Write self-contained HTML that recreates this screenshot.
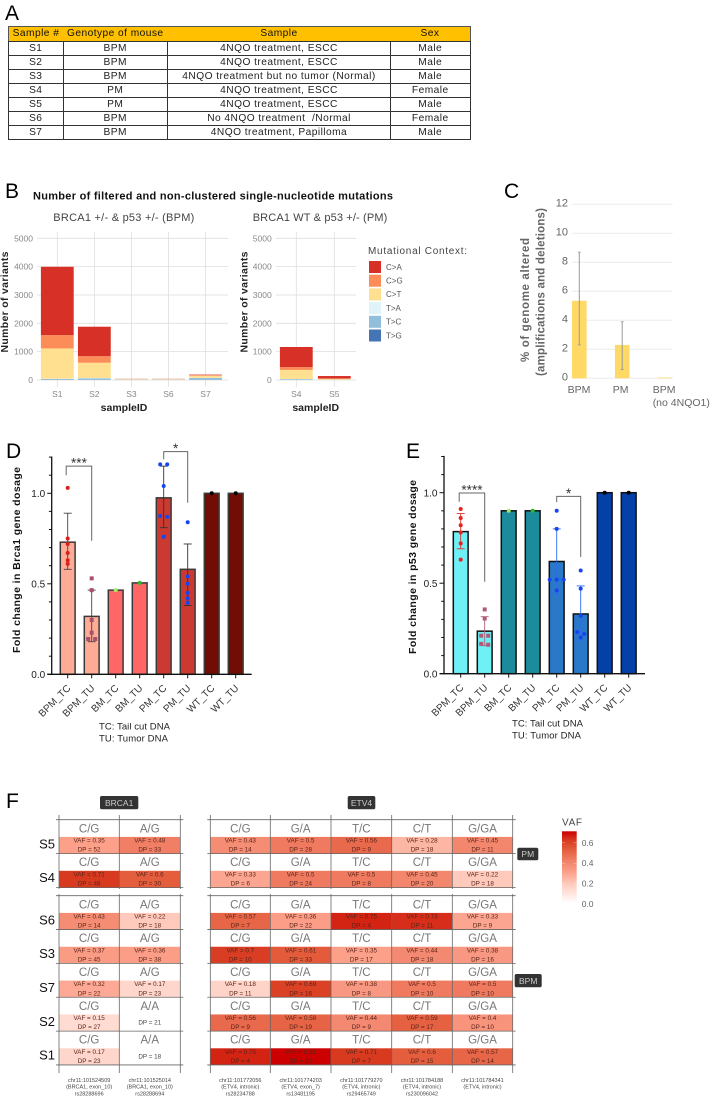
<!DOCTYPE html>
<html lang="en">
<head>
<meta charset="utf-8">
<title>Mouse sample table and genomic analyses</title>
<style>
html,body{margin:0;padding:0;background:#fff;}
body{width:712px;height:1097px;overflow:hidden;position:relative;font-family:"Liberation Sans",sans-serif;}
#figure{position:absolute;left:0;top:0;filter:blur(0.3px);}
#sample-table{position:absolute;left:8px;top:26px;width:461.5px;border-collapse:collapse;table-layout:fixed;font-size:10.2px;letter-spacing:.45px;color:#222;border:1.2px solid #555;filter:blur(0.25px);}
#sample-table th{background:#FFC000;font-weight:normal;height:14px;padding:0;border:0;line-height:14px;color:#111;white-space:nowrap;}
#sample-table td{height:13px;line-height:13px;padding:0;text-align:center;border:1px solid #333;white-space:nowrap;}
</style>
</head>
<body>
<svg id="figure" xmlns="http://www.w3.org/2000/svg" width="712" height="1097" viewBox="0 0 712 1097" font-family="'Liberation Sans',sans-serif">
  <text x="5" y="20" font-size="21">A</text>
  <text x="5" y="198" font-size="21">B</text>
  <text x="504" y="198" font-size="21">C</text>
  <text x="6" y="458" font-size="21">D</text>
  <text x="406" y="458" font-size="21">E</text>
  <text x="6" y="808" font-size="21">F</text>

  <text x="33" y="199.5" font-size="11" font-weight="bold" fill="#111" textLength="360" lengthAdjust="spacing">Number of filtered and non-clustered single-nucleotide mutations</text>
  <text x="53.3" y="221" font-size="11" fill="#444" textLength="141" lengthAdjust="spacing">BRCA1 +/- &amp; p53 +/- (BPM)</text>
  <text x="252.7" y="221" font-size="11" fill="#444" textLength="134.6" lengthAdjust="spacing">BRCA1 WT &amp; p53 +/- (PM)</text>
  <text x="368" y="254" font-size="10" fill="#444" textLength="99" lengthAdjust="spacing">Mutational Context:</text>

  <text transform="translate(529,300) rotate(-90)" text-anchor="middle" font-size="11.5" font-weight="bold" fill="#666" textLength="124" lengthAdjust="spacing">% of genome altered</text>
  <text transform="translate(544.5,292) rotate(-90)" text-anchor="middle" font-size="11.5" font-weight="bold" fill="#666" textLength="168" lengthAdjust="spacing">(amplifications and deletions)</text>

  <text transform="translate(20,560) rotate(-90)" text-anchor="middle" font-size="10.5" font-weight="bold" fill="#111" textLength="186" lengthAdjust="spacing">Fold change in Brca1 gene dosage</text>
  <text transform="translate(416,567) rotate(-90)" text-anchor="middle" font-size="10.5" font-weight="bold" fill="#111" textLength="174" lengthAdjust="spacing">Fold change in p53 gene dosage</text>
  <text x="99" y="729.5" font-size="9.5" fill="#222" textLength="71" lengthAdjust="spacing">TC: Tail cut DNA</text>
  <text x="99" y="741.5" font-size="9.5" fill="#222" textLength="69" lengthAdjust="spacing">TU: Tumor DNA</text>
  <text x="512" y="726.5" font-size="9.5" fill="#222" textLength="71" lengthAdjust="spacing">TC: Tail cut DNA</text>
  <text x="512" y="738.5" font-size="9.5" fill="#222" textLength="69" lengthAdjust="spacing">TU: Tumor DNA</text>
</svg>

<table id="sample-table">
  <colgroup><col style="width:54.5px"><col style="width:104.5px"><col style="width:223px"><col style="width:79.5px"></colgroup>
  <tr><th>Sample #</th><th>Genotype of mouse</th><th>Sample</th><th>Sex</th></tr>
  <tr><td>S1</td><td>BPM</td><td>4NQO treatment, ESCC</td><td>Male</td></tr>
  <tr><td>S2</td><td>BPM</td><td>4NQO treatment, ESCC</td><td>Male</td></tr>
  <tr><td>S3</td><td>BPM</td><td>4NQO treatment but no tumor (Normal)</td><td>Male</td></tr>
  <tr><td>S4</td><td>PM</td><td>4NQO treatment, ESCC</td><td>Female</td></tr>
  <tr><td>S5</td><td>PM</td><td>4NQO treatment, ESCC</td><td>Male</td></tr>
  <tr><td>S6</td><td>BPM</td><td>No 4NQO treatment &nbsp;/Normal</td><td>Female</td></tr>
  <tr><td>S7</td><td>BPM</td><td>4NQO treatment, Papilloma</td><td>Male</td></tr>
</table>

<script>
/* ---------- Panel B data ---------- */
const leftSamples = ['S1', 'S2', 'S3', 'S6', 'S7'];
const rightSamples = ['S4', 'S5'];
const stackSamples = ['S1', 'S2', 'S3', 'S6', 'S7', 'S4', 'S5'];
const contexts = ['C>A', 'C>G', 'C>T', 'T>A', 'T>C', 'T>G'];
const countsCA = [2410, 1040, 5, 5, 15, 710, 85];
const countsCG = [470, 230, 5, 5, 25, 100, 15];
const countsCT = [1070, 540, 15, 15, 70, 320, 30];
const countsTA = [10, 15, 5, 5, 10, 5, 3];
const countsTC = [30, 50, 10, 10, 65, 30, 7];
const countsTG = [5, 5, 0, 0, 5, 0, 0];
const variantTicks = [0, 1000, 2000, 3000, 4000, 5000];

/* ---------- Panel C data ---------- */
const cnaGroups = ['BPM', 'PM', 'BPM'];
const cnaMeans = [5.35, 2.3, 0.05];
const cnaLows = [2.3, 0.6, null];
const cnaHighs = [8.7, 3.9, null];
const cnaTicks = [0, 2, 4, 6, 8, 10, 12];

/* ---------- Panels D and E data ---------- */
const doseGroups = ['BPM_TC', 'BPM_TU', 'BM_TC', 'BM_TU', 'PM_TC', 'PM_TU', 'WT_TC', 'WT_TU'];
const doseTicks = [0, 0.5, 1];
const brcaMeans = [0.73, 0.32, 0.465, 0.505, 0.975, 0.58, 1, 1];
const brcaLows = [0.58, 0.18, null, null, 0.81, 0.38, null, null];
const brcaHighs = [0.89, 0.465, null, null, 1.15, 0.72, null, null];
const brcaPoints = [
  [1.03, 0.75, 0.72, 0.67, 0.63, 0.61],
  [0.53, 0.465, 0.30, 0.23, 0.195, 0.195],
  [0.465],
  [0.505],
  [1.16, 1.16, 1.04, 0.87, 0.875, 0.76],
  [0.84, 0.54, 0.50, 0.45, 0.42, 0.395],
  [1],
  [1]
];
const p53Means = [0.785, 0.235, 0.9, 0.9, 0.62, 0.33, 1, 1];
const p53Lows = [0.69, 0.155, null, null, 0.435, 0.185, null, null];
const p53Highs = [0.885, 0.315, null, null, 0.80, 0.485, null, null];
const p53Points = [
  [0.91, 0.86, 0.82, 0.78, 0.72, 0.63],
  [0.355, 0.305, 0.21, 0.21, 0.16, 0.165],
  [0.9],
  [0.9],
  [0.90, 0.80, 0.52, 0.52, 0.52, 0.46],
  [0.57, 0.47, 0.32, 0.22, 0.23, 0.20],
  [1],
  [1]
];
const brcaBrackets = [
  { from: 0, to: 1, top: 1.15, leftEnd: 1.10, rightEnd: 0.738, label: '***' },
  { from: 4, to: 5, top: 1.23, leftEnd: 1.188, rightEnd: 0.948, label: '*' }
];
const p53Brackets = [
  { from: 0, to: 1, top: 0.998, leftEnd: 0.95, rightEnd: 0.508, label: '****' },
  { from: 4, to: 5, top: 0.98, leftEnd: 0.948, rightEnd: 0.645, label: '*' }
];

/* ---------- Panel F data ---------- */
const heatSamples = ['S5', 'S4', 'S6', 'S3', 'S7', 'S2', 'S1'];
const heatGenotypes = ['C/G', 'A/G', 'C/G', 'G/A', 'T/C', 'C/T', 'G/GA'];
const homozygousBrca = ['C/G', 'A/A'];
const vafS5 = [0.35, 0.48, 0.43, 0.5, 0.56, 0.28, 0.45];
const vafS4 = [0.71, 0.6, 0.33, 0.5, 0.5, 0.45, 0.22];
const vafS6 = [0.43, 0.22, 0.57, 0.36, 0.75, 0.73, 0.33];
const vafS3 = [0.37, 0.36, 0.7, 0.61, 0.35, 0.44, 0.38];
const vafS7 = [0.32, 0.17, 0.18, 0.69, 0.38, 0.5, 0.5];
const vafS2 = [0.15, null, 0.56, 0.58, 0.44, 0.59, 0.4];
const vafS1 = [0.17, null, 0.75, 0.81, 0.71, 0.6, 0.57];
const dpS5 = [52, 33, 14, 28, 9, 18, 11];
const dpS4 = [48, 30, 6, 24, 8, 20, 18];
const dpS6 = [14, 18, 7, 22, 4, 11, 9];
const dpS3 = [45, 38, 10, 33, 17, 18, 16];
const dpS7 = [22, 23, 11, 16, 8, 10, 10];
const dpS2 = [27, 21, 9, 19, 9, 17, 10];
const dpS1 = [23, 18, 4, 31, 7, 15, 14];
const locusPositions = ['chr11:101524509', 'chr11:101525014', 'chr11:101772056', 'chr11:101774203', 'chr11:101779270', 'chr11:101784188', 'chr11:101784341'];
const locusNotes = ['(BRCA1, exon_10)', '(BRCA1, exon_10)', '(ETV4, intronic)', '(ETV4, exon_7)', '(ETV4, intronic)', '(ETV4, intronic)', '(ETV4, intronic)'];
const locusIds = ['rs28288696', 'rs28288694', 'rs28234788', 'rs13481195', 'rs29465749', 'rs230096042', ''];
const vafLegendTicks = [0, 0.2, 0.4, 0.6];

/* ---------- Helpers ---------- */
const NS = 'http://www.w3.org/2000/svg';
const svg = document.getElementById('figure');
function add(parent, tag, name, attrs, text) {
  const el = document.createElementNS(NS, tag);
  
  
  for (const k in attrs) el.setAttribute(k, attrs[k]);
  if (text !== undefined) el.textContent = text;
  parent.appendChild(el);
  return el;
}
function group(name) {
  return add(svg, 'g', name, {});
}
function slug(s) {
  return String(s).toLowerCase().replace(/[^a-z0-9]+/g, '-');
}

/* ---------- Panel B ---------- */
const contextColors = ['#D73027', '#FC8D59', '#FEE090', '#E0F3F8', '#91BFDB', '#4575B4'];
const contextSeries = [countsCA, countsCG, countsCT, countsTA, countsTC, countsTG];
function yVariants(v) {
  return 380 - v * 141.7 / 5000;
}
function drawStackPanel(name, samples, xLeft, xRight, firstCenter, step, tickX, titleX, labelX) {
  const g = group(name);
  const xBand = i => firstCenter + step * i;
  variantTicks.forEach(t => {
    add(g, 'line', 'variant-gridline', { x1: xLeft, x2: xRight, y1: yVariants(t), y2: yVariants(t), stroke: '#dedede', 'stroke-width': 0.8 });
    add(g, 'text', 'variant-tick-label', { x: tickX, y: yVariants(t) + 3, 'text-anchor': 'end', 'font-size': 8.5, fill: '#888' }, t);
  });
  samples.forEach((s, i) => {
    add(g, 'line', 'sample-gridline', { x1: xBand(i), x2: xBand(i), y1: 231.7, y2: 386.7, stroke: '#dedede', 'stroke-width': 0.8 });
  });
  samples.forEach((s, i) => {
    const row = stackSamples.indexOf(s);
    let total = 0;
    for (let c = contexts.length - 1; c >= 0; c--) {
      const v = contextSeries[c][row];
      add(g, 'rect', 'bar-' + slug(s) + '-' + slug(contexts[c]), {
        x: xBand(i) - 16.4, width: 32.8,
        y: yVariants(total + v), height: Math.max(0, yVariants(total) - yVariants(total + v)),
        fill: contextColors[c]
      });
      total += v;
    }
    add(g, 'text', 'sample-tick-label', { x: xBand(i), y: 397, 'text-anchor': 'middle', 'font-size': 8.5, fill: '#888' }, s);
  });
  add(g, 'text', 'sample-axis-title', { x: labelX, y: 411, 'text-anchor': 'middle', 'font-size': 10.5, 'font-weight': 'bold', fill: '#222' }, 'sampleID');
  add(g, 'text', 'variant-axis-title', { transform: 'translate(' + titleX + ',302) rotate(-90)', 'text-anchor': 'middle', 'font-size': 10.5, 'font-weight': 'bold', fill: '#222', textLength: 101, lengthAdjust: 'spacing' }, 'Number of variants');
}
drawStackPanel('bpm-stacked-bars', leftSamples, 37, 228, 57.3, 37.05, 33, 8, 124);
drawStackPanel('pm-stacked-bars', rightSamples, 276, 356, 296.3, 38, 271.7, 247.5, 315.7);

const legendGroup = group('mutation-legend');
contexts.forEach((c, i) => {
  const cy = 267 + i * 13.7;
  add(legendGroup, 'rect', 'legend-swatch-' + slug(c), { x: 369, y: cy - 6, width: 12, height: 12, fill: contextColors[i] });
  add(legendGroup, 'text', 'legend-entry-' + slug(c), { x: 386, y: cy + 2.8, 'font-size': 8, fill: '#555' }, c);
});

/* ---------- Panel C ---------- */
const cnaGroup = group('genome-altered-chart');
function yCna(v) {
  return 378.3 - v * 174 / 12;
}
function xCna(i) {
  return 579.3 + i * 42.9;
}
cnaTicks.forEach(t => {
  add(cnaGroup, 'line', 'cna-gridline', { x1: 571.7, x2: 672.7, y1: yCna(t), y2: yCna(t), stroke: '#ebebeb', 'stroke-width': 1 });
  add(cnaGroup, 'text', 'cna-tick-label', { x: 568, y: yCna(t) + 2, 'text-anchor': 'end', 'font-size': 11, fill: '#666' }, t);
});
cnaMeans.forEach((v, i) => {
  add(cnaGroup, 'rect', 'cna-bar-' + i, { x: xCna(i) - 7.3, width: 14.6, y: yCna(v), height: yCna(0) - yCna(v), fill: '#FFD966' });
  if (cnaLows[i] !== null) {
    add(cnaGroup, 'line', 'cna-error-bar-' + i, { x1: xCna(i), x2: xCna(i), y1: yCna(cnaLows[i]), y2: yCna(cnaHighs[i]), stroke: '#999', 'stroke-width': 1 });
    add(cnaGroup, 'line', 'cna-error-cap-low-' + i, { x1: xCna(i) - 1.5, x2: xCna(i) + 1.5, y1: yCna(cnaLows[i]), y2: yCna(cnaLows[i]), stroke: '#999', 'stroke-width': 0.8 });
    add(cnaGroup, 'line', 'cna-error-cap-high-' + i, { x1: xCna(i) - 1.5, x2: xCna(i) + 1.5, y1: yCna(cnaHighs[i]), y2: yCna(cnaHighs[i]), stroke: '#999', 'stroke-width': 0.8 });
  }
});
add(cnaGroup, 'text', 'cna-label-bpm', { x: 579, y: 393, 'text-anchor': 'middle', 'font-size': 10.5, fill: '#666' }, cnaGroups[0]);
add(cnaGroup, 'text', 'cna-label-pm', { x: 620.6, y: 393, 'text-anchor': 'middle', 'font-size': 10.5, fill: '#666' }, cnaGroups[1]);
add(cnaGroup, 'text', 'cna-label-bpm-control', { x: 652.7, y: 393, 'font-size': 10.5, fill: '#666' }, cnaGroups[2]);
add(cnaGroup, 'text', 'cna-label-no-4nqo1', { x: 652.7, y: 406, 'font-size': 10.5, fill: '#666' }, '(no 4NQO1)');

/* ---------- Panels D and E ---------- */
function swarmOffsets(values, spacing) {
  const offsets = values.map(() => 0);
  const order = values.map((v, i) => i).sort((a, b) => values[b] - values[a]);
  let start = 0;
  for (let k = 1; k <= order.length; k++) {
    if (k === order.length || values[order[k - 1]] - values[order[k]] > 0.012) {
      const n = k - start;
      for (let j = start; j < k; j++) offsets[order[j]] = (j - start - (n - 1) / 2) * spacing;
      start = k;
    }
  }
  return offsets;
}
function drawDoseChart(opts) {
  const g = group(opts.name);
  const y = v => opts.y0 - v * 181;
  const x = i => opts.x0 + i * 24;
  opts.means.forEach((v, i) => {
    add(g, 'rect', 'bar-' + slug(doseGroups[i]), { x: x(i) - 7.4, width: 14.8, y: y(v), height: y(0) - y(v), fill: opts.fills[i], stroke: opts.barStroke, 'stroke-width': 1.5 });
  });
  opts.means.forEach((v, i) => {
    if (opts.lows[i] !== null) {
      const c = opts.errorColors[i];
      add(g, 'line', 'error-bar-' + slug(doseGroups[i]), { x1: x(i), x2: x(i), y1: y(opts.lows[i]), y2: y(opts.highs[i]), stroke: c, 'stroke-width': 0.9 });
      add(g, 'line', 'error-cap-low-' + slug(doseGroups[i]), { x1: x(i) - 4, x2: x(i) + 4, y1: y(opts.lows[i]), y2: y(opts.lows[i]), stroke: c, 'stroke-width': 0.9 });
      add(g, 'line', 'error-cap-high-' + slug(doseGroups[i]), { x1: x(i) - 4, x2: x(i) + 4, y1: y(opts.highs[i]), y2: y(opts.highs[i]), stroke: c, 'stroke-width': 0.9 });
    }
    const offs = swarmOffsets(opts.points[i], 7);
    opts.points[i].forEach((p, k) => {
      const color = opts.pointColors[i];
      if (i === 1) {
        add(g, 'rect', 'point-' + slug(doseGroups[i]), { x: x(i) + offs[k] - 2, y: y(p) - 2, width: 4, height: 4, fill: color });
      } else {
        add(g, 'circle', 'point-' + slug(doseGroups[i]), { cx: x(i) + offs[k], cy: y(p), r: 2, fill: color });
      }
    });
  });
  opts.brackets.forEach(b => {
    const lx = x(b.from) - (b.from === 0 ? 1.5 : 0);
    const rx = x(b.to);
    const d = 'M' + lx + ' ' + y(b.leftEnd) + 'L' + lx + ' ' + y(b.top) + 'L' + rx + ' ' + y(b.top) + 'L' + rx + ' ' + y(b.rightEnd);
    add(g, 'path', 'significance-bracket', { d: d, fill: 'none', stroke: '#666', 'stroke-width': 1 });
    add(g, 'text', 'significance-stars', { x: (lx + rx) / 2, y: y(b.top) + 1.5, 'text-anchor': 'middle', 'font-size': 13.6, fill: '#333' }, b.label);
  });
  add(g, 'line', 'y-axis-line', { x1: opts.axisX, x2: opts.axisX, y1: y(1.2) - 0.6, y2: y(0) + 0.7, stroke: '#111', 'stroke-width': 1.3 });
  add(g, 'line', 'x-axis-line', { x1: opts.axisX - 4.5, x2: opts.axisEnd, y1: y(0), y2: y(0), stroke: '#111', 'stroke-width': 1.3 });
  for (let m = 1; m <= 12; m++) {
    const major = m === 5 || m === 10;
    add(g, 'line', major ? 'y-major-tick' : 'y-minor-tick', { x1: opts.axisX - (major ? 4.5 : 2.8), x2: opts.axisX, y1: y(m / 10), y2: y(m / 10), stroke: '#111', 'stroke-width': 1 });
  }
  doseTicks.forEach(t => {
    add(g, 'text', 'y-tick-label', { x: opts.axisX - 6.5, y: y(t) + 3.6, 'text-anchor': 'end', 'font-size': 10, fill: '#222' }, t.toFixed(1));
  });
  doseGroups.forEach((name, i) => {
    add(g, 'line', 'x-tick', { x1: x(i), x2: x(i), y1: y(0), y2: y(0) + 4, stroke: '#111', 'stroke-width': 1 });
    add(g, 'text', 'x-tick-label-' + slug(name), { transform: 'translate(' + (x(i) + 3.5) + ',' + (y(0) + 14.5) + ') rotate(-45)', 'text-anchor': 'end', 'font-size': 10, fill: '#333' }, name);
  });
}
drawDoseChart({
  name: 'brca1-dosage-chart', x0: 67.7, y0: 674.3, axisX: 51.7, axisEnd: 251.7,
  means: brcaMeans, lows: brcaLows, highs: brcaHighs, points: brcaPoints, brackets: brcaBrackets,
  fills: ['#FFAB95', '#FFAB95', '#FF6666', '#FF6666', '#CB3A30', '#CB3A30', '#710D05', '#710D05'],
  barStroke: '#3a3a3a',
  errorColors: ['#444', '#444', '#444', '#444', '#333', '#333', '#333', '#333'],
  pointColors: ['#D8201E', '#A8506E', '#A5E86A', '#2DB82D', '#1644F0', '#1644F0', '#000', '#000']
});
drawDoseChart({
  name: 'p53-dosage-chart', x0: 460.7, y0: 673.7, axisX: 444, axisEnd: 645,
  means: p53Means, lows: p53Lows, highs: p53Highs, points: p53Points, brackets: p53Brackets,
  fills: ['#6EF0F5', '#6EF0F5', '#1C8C9C', '#1C8C9C', '#2A78C8', '#2A78C8', '#0540A8', '#0540A8'],
  barStroke: '#111',
  errorColors: ['#E0352B', '#B0607C', '#333', '#333', '#2A6CF0', '#2A6CF0', '#333', '#333'],
  pointColors: ['#E8201E', '#B05A78', '#A5E86A', '#2DB82D', '#1644F0', '#1644F0', '#000', '#000']
});

/* ---------- Panel F ---------- */
const vafMatrix = [vafS5, vafS4, vafS6, vafS3, vafS7, vafS2, vafS1];
const dpMatrix = [dpS5, dpS4, dpS6, dpS3, dpS7, dpS2, dpS1];
const colorStops = [[0, [255, 255, 255]], [0.2, [255, 207, 194]], [0.35, [252, 160, 138]], [0.5, [239, 122, 96]], [0.6, [228, 94, 62]], [0.71, [216, 58, 32]], [0.81, [204, 0, 0]]];
function vafColor(v) {
  for (let i = 1; i < colorStops.length; i++) {
    if (v <= colorStops[i][0]) {
      const a = colorStops[i - 1], b = colorStops[i];
      const t = (v - a[0]) / (b[0] - a[0]);
      return 'rgb(' + a[1].map((c, k) => Math.round(c + (b[1][k] - c) * t)).join(',') + ')';
    }
  }
  return 'rgb(204,0,0)';
}
const heatEdges = [59, 119.3, 210.3, 270.3, 331, 391.7, 452.3];
const heatWidths = [60.3, 61, 60, 60.7, 60.7, 60.6, 60.4];
function rowTop(r) {
  return r < 2 ? 819.7 + r * 33.9 : 895.7 + (r - 2) * 33.85;
}
const heatGroup = group('vaf-heatmap');
heatSamples.forEach((s, r) => {
  const top = rowTop(r);
  add(heatGroup, 'text', 'row-label-' + slug(s), { x: 55, y: top + 28.6, 'text-anchor': 'end', 'font-size': 13, fill: '#111' }, s);
  heatGenotypes.forEach((g0, c) => {
    let geno = g0;
    if (c < 2 && vafMatrix[r][c] === null) geno = homozygousBrca[1];
    const x = heatEdges[c];
    const w = heatWidths[c];
    const v = vafMatrix[r][c];
    add(heatGroup, 'rect', 'heat-cell-' + slug(s) + '-' + c, { x: x, y: top + 17.2, width: w, height: 16.7, fill: v === null ? '#ffffff' : vafColor(v) });
    add(heatGroup, 'text', 'genotype-label', { x: x + w / 2, y: top + 12.6, 'text-anchor': 'middle', 'font-size': 11.5, fill: '#777' }, geno);
    if (v !== null) {
      add(heatGroup, 'text', 'vaf-value', { x: x + w / 2, y: top + 22.7, 'text-anchor': 'middle', 'font-size': 6.3, fill: '#5a2418' }, 'VAF = ' + v);
      add(heatGroup, 'text', 'dp-value', { x: x + w / 2, y: top + 31.9, 'text-anchor': 'middle', 'font-size': 6.3, fill: '#5a2418' }, 'DP = ' + dpMatrix[r][c]);
    } else {
      add(heatGroup, 'text', 'dp-value', { x: x + w / 2, y: top + 27.4, 'text-anchor': 'middle', 'font-size': 6.3, fill: '#444' }, 'DP = ' + dpMatrix[r][c]);
    }
  });
});
function drawHeatFrame(xs, top, bottom, rows) {
  xs.forEach(x => {
    add(heatGroup, 'line', 'heat-column-line', { x1: x, x2: x, y1: top, y2: bottom, stroke: '#666', 'stroke-width': 0.8 });
  });
  rows.forEach(y => {
    add(heatGroup, 'line', 'heat-row-line', { x1: xs[0] - 3, x2: xs[xs.length - 1] + 3, y1: y, y2: y, stroke: '#666', 'stroke-width': 0.8 });
  });
}
const pmLines = [0, 1, 2].map(i => 819.7 + i * 33.95);
const bpmLines = [0, 1, 2, 3, 4, 5].map(i => 895.7 + i * 33.85);
drawHeatFrame([59, 119.3, 180.3], 815, 889, pmLines);
drawHeatFrame([59, 119.3, 180.3], 894, 1073, bpmLines);
drawHeatFrame([210.3, 270.3, 331, 391.7, 452.3, 512.7], 815, 889, pmLines);
drawHeatFrame([210.3, 270.3, 331, 391.7, 452.3, 512.7], 894, 1073, bpmLines);

locusPositions.forEach((p, c) => {
  const cx = heatEdges[c] + heatWidths[c] / 2;
  add(heatGroup, 'text', 'locus-position', { x: cx, y: 1082, 'text-anchor': 'middle', 'font-size': 5.5, fill: '#444' }, p);
  add(heatGroup, 'text', 'locus-annotation', { x: cx, y: 1088.7, 'text-anchor': 'middle', 'font-size': 5.5, fill: '#444' }, locusNotes[c]);
  if (locusIds[c]) {
    add(heatGroup, 'text', 'locus-rsid', { x: cx, y: 1095.3, 'text-anchor': 'middle', 'font-size': 5.5, fill: '#444' }, locusIds[c]);
  }
});

function drawTag(label, x, y, w, h) {
  add(heatGroup, 'rect', 'tag-box-' + slug(label), { x: x, y: y, width: w, height: h, rx: 1.8, fill: '#333' });
  add(heatGroup, 'text', 'tag-' + slug(label), { x: x + w / 2, y: y + h / 2 + 3.1, 'text-anchor': 'middle', 'font-size': 8.5, fill: '#ccc' }, label);
}
drawTag('BRCA1', 100, 796, 38.3, 13.3);
drawTag('ETV4', 347.7, 796, 27.6, 13.3);
drawTag('PM', 517.3, 847.7, 21, 12.6);
drawTag('BPM', 514.7, 974, 27, 13.3);

/* VAF colour legend */
const vafLegend = group('vaf-legend');
const defs = add(vafLegend, 'defs', 'vaf-gradient-defs', {});
const grad = add(defs, 'linearGradient', 'vaf-gradient', { id: 'vaf-gradient', x1: 0, y1: 1, x2: 0, y2: 0 });
colorStops.forEach(s => {
  add(grad, 'stop', 'vaf-gradient-stop', { offset: s[0] / 0.81, 'stop-color': vafColor(s[0]) });
});
function yVafLegend(v) {
  return 904 - v * 102;
}
add(vafLegend, 'text', 'vaf-legend-title', { x: 562, y: 825.5, 'font-size': 10, fill: '#444', textLength: 20, lengthAdjust: 'spacing' }, 'VAF');
add(vafLegend, 'rect', 'vaf-color-bar', { x: 562, y: 831.3, width: 14.7, height: 71.7, fill: 'url(#vaf-gradient)' });
vafLegendTicks.forEach(t => {
  add(vafLegend, 'text', 'vaf-legend-tick', { x: 581.7, y: yVafLegend(t) + 3, 'font-size': 8.5, fill: '#666' }, t.toFixed(1));
  add(vafLegend, 'line', 'vaf-legend-mark', { x1: 562, x2: 565, y1: yVafLegend(t), y2: yVafLegend(t), stroke: '#fff', 'stroke-width': 0.5, 'stroke-opacity': 0.6 });
  add(vafLegend, 'line', 'vaf-legend-mark', { x1: 573.7, x2: 576.7, y1: yVafLegend(t), y2: yVafLegend(t), stroke: '#fff', 'stroke-width': 0.5, 'stroke-opacity': 0.6 });
});
</script>
</body>
</html>
